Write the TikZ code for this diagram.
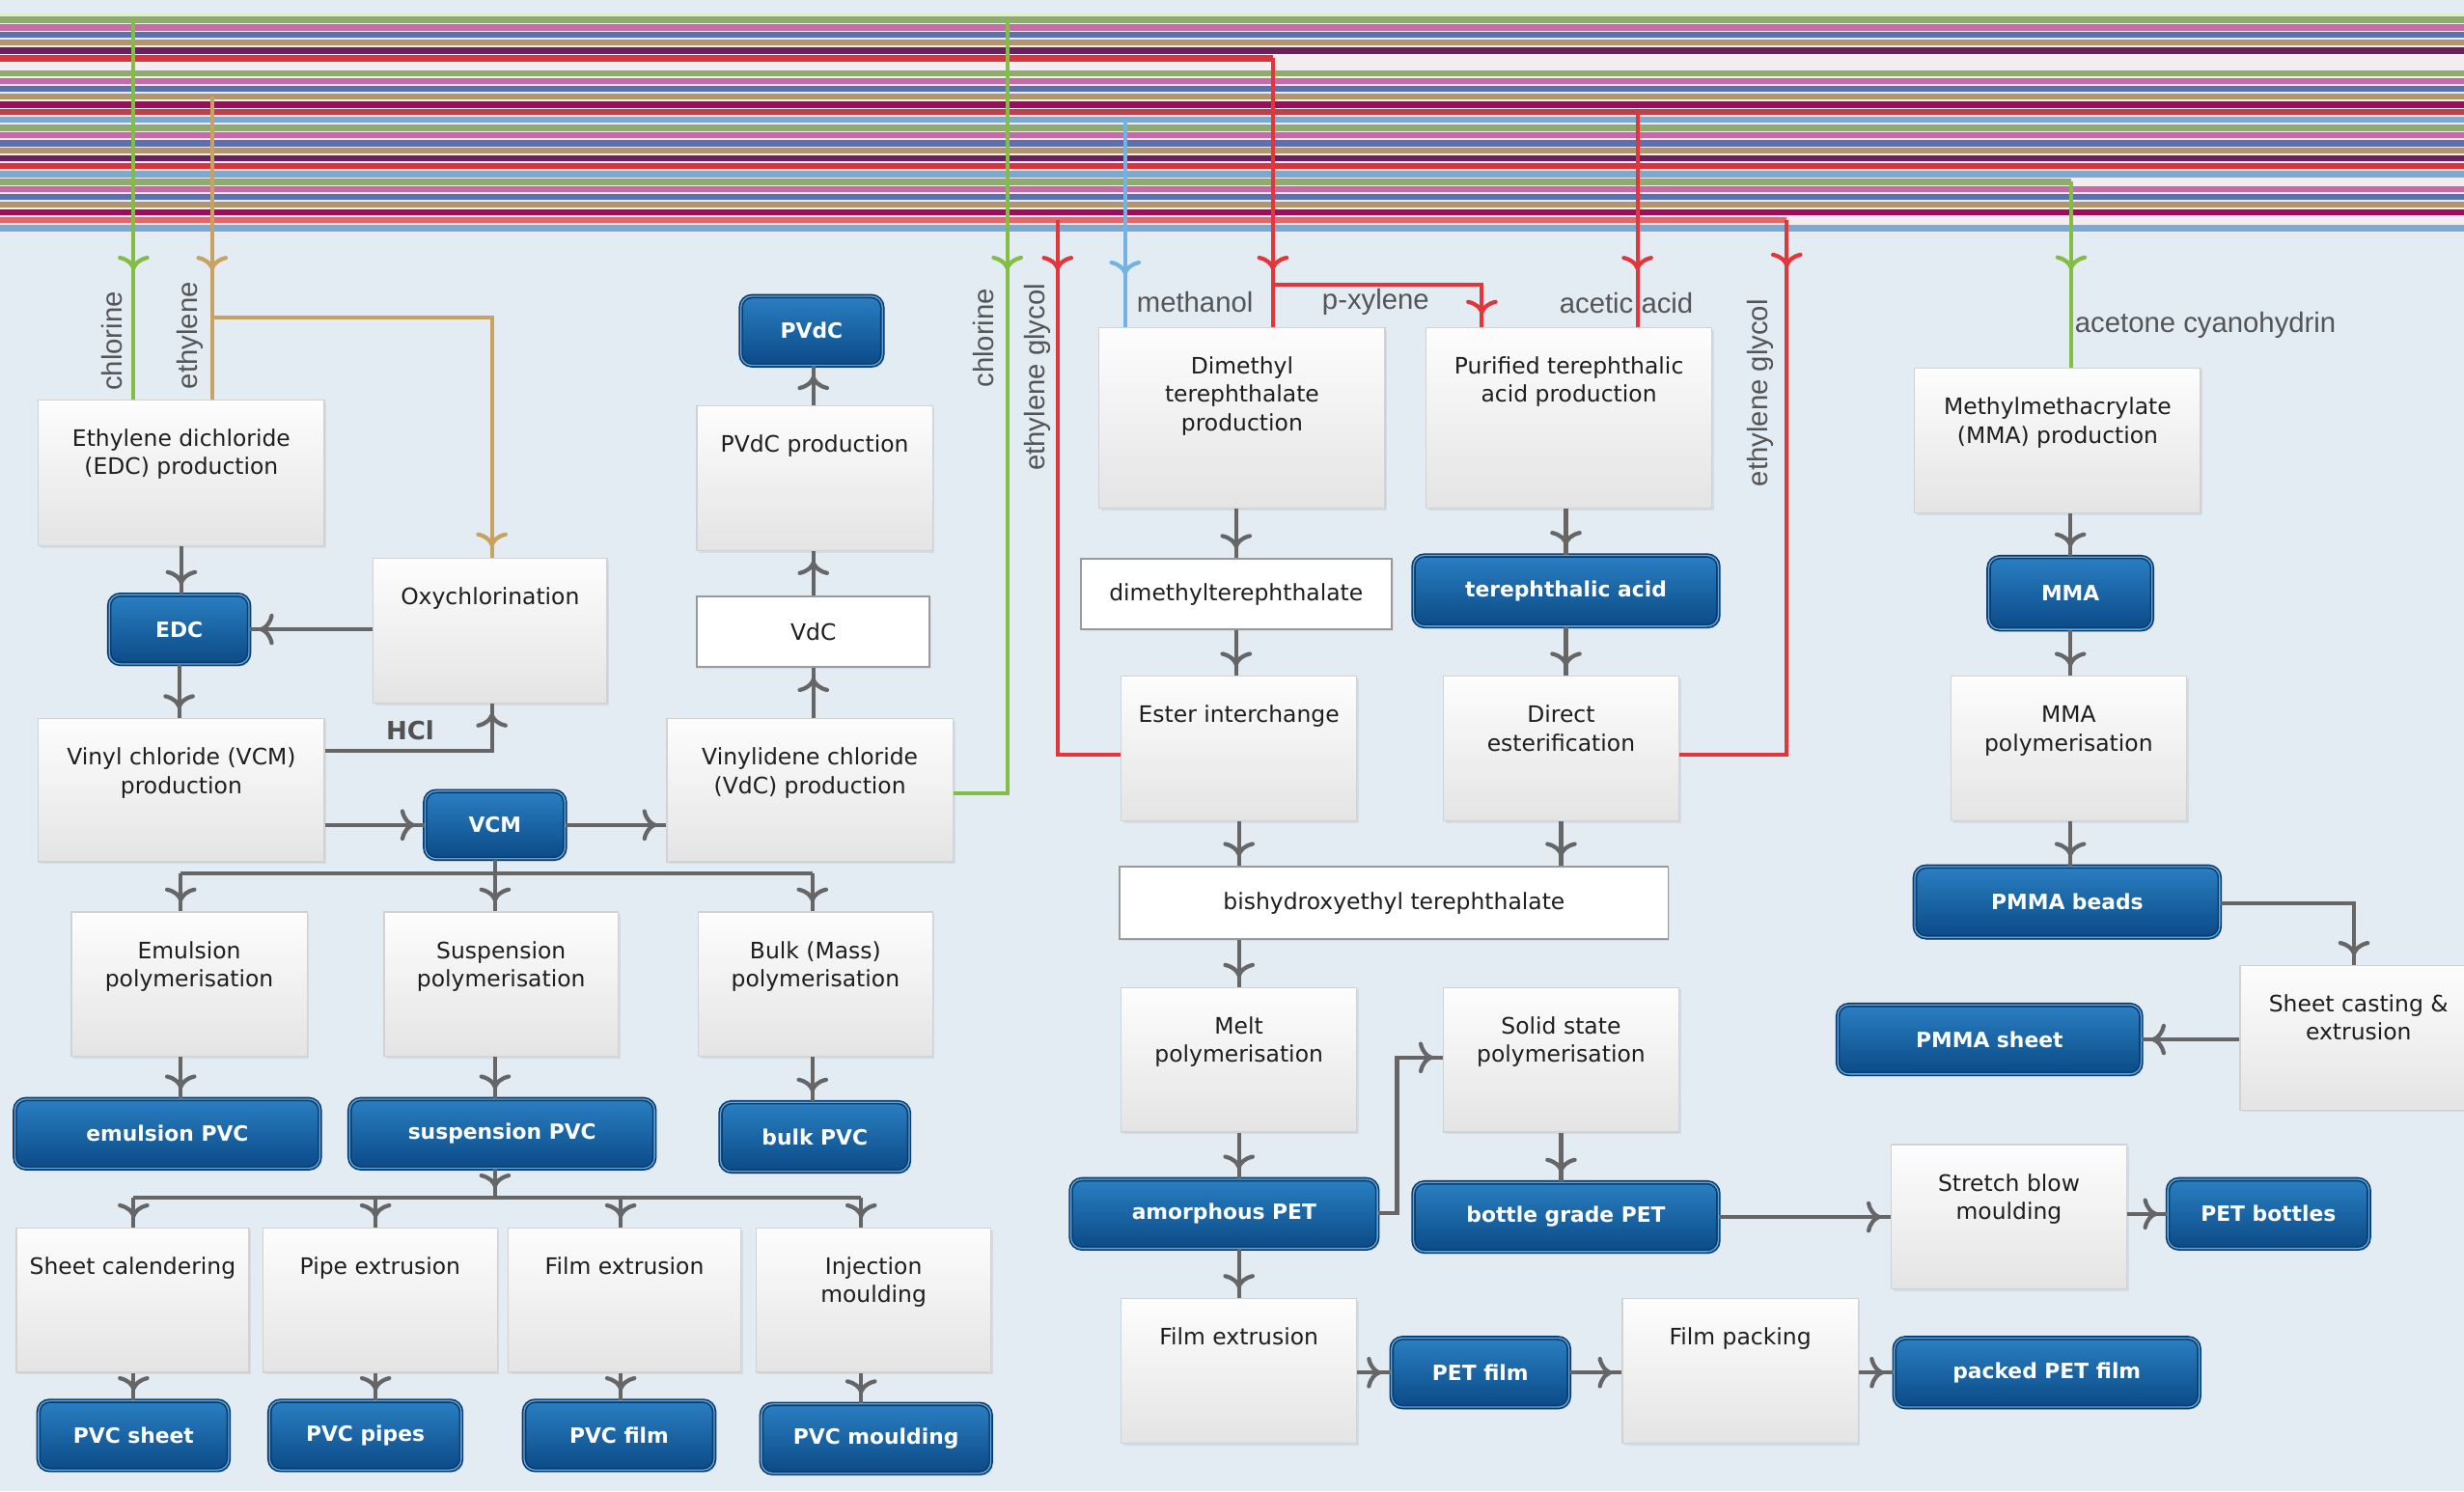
\documentclass[tikz,border=0pt]{standalone}
\usepackage{fontspec}
\setmainfont{DejaVu Sans}
\newfontfamily\labfam{Liberation Sans}
\usetikzlibrary{arrows.meta,decorations.markings,shadows}
\definecolor{bg}{HTML}{E3EBF3}
\definecolor{band}{HTML}{F3EDF2}
\definecolor{procT}{HTML}{FDFDFD}
\definecolor{procB}{HTML}{E4E4E4}
\definecolor{procE}{HTML}{D2D2D2}
\definecolor{wE}{HTML}{9A9A9A}
\definecolor{bT}{HTML}{2A7FC2}
\definecolor{bB}{HTML}{0B4A86}
\definecolor{bE}{HTML}{0A3D6E}
\definecolor{bI}{HTML}{5FA6DE}
\definecolor{txt}{HTML}{1E1E1E}
\definecolor{labc}{HTML}{555555}
\definecolor{cg}{HTML}{666666}
\definecolor{sg}{HTML}{8EAD6C}
\definecolor{sp}{HTML}{C76AA6}
\definecolor{sb}{HTML}{5B6FB3}
\definecolor{st}{HTML}{B0956F}
\definecolor{su}{HTML}{6B1F5E}
\definecolor{sr}{HTML}{D8343C}
\definecolor{sm}{HTML}{9C0D5C}
\definecolor{sd}{HTML}{B8434C}
\definecolor{sl}{HTML}{7AAAD4}
\definecolor{sx}{HTML}{E4676B}
\definecolor{pale}{HTML}{DDF0C8}
\definecolor{fg}{HTML}{82BD45}
\definecolor{ft}{HTML}{C9A261}
\definecolor{fr}{HTML}{E2363A}
\definecolor{fb}{HTML}{72B3E3}
\newdimen\uu \uu=0.5pt
\newcommand\ptfont{\fontsize{7.2}{9}\selectfont}
\newcommand\bfnt{\fontsize{6.7}{8}\selectfont\bfseries}
\newcommand\labfont{\labfam\fontsize{9}{11}\selectfont}
\newcommand\ptxt[3]{\parbox[t][#2\uu][t]{#1\uu}{\centering\rule{0pt}{14.8pt}#3\par}}
\begin{document}
\begin{tikzpicture}[x=0.5pt,y=-0.5pt,
 sz/.style 2 args={minimum width=#1*0.5pt, minimum height=#2*0.5pt, anchor=north west},
 proc/.style={draw=procE, line width=0.4pt, top color=procT, bottom color=procB, inner sep=0pt, anchor=north west, text=txt, font=\ptfont, drop shadow={shadow xshift=0.7pt, shadow yshift=-0.7pt, opacity=0.15}},
 wbox/.style={draw=wE, line width=0.6pt, fill=white, inner sep=0pt, text=txt, font=\ptfont, drop shadow={shadow xshift=0.6pt, shadow yshift=-0.6pt, opacity=0.12}},
 bbox/.style={rounded corners=3.5pt, top color=bT, bottom color=bB, draw=bE, double=bI, double distance=0.4pt, line width=0.5pt, inner sep=0pt, text=white, font=\bfnt, drop shadow={shadow xshift=0.6pt, shadow yshift=-0.8pt, opacity=0.25}},
 gl/.style={draw=cg, line width=1.25pt},
 gc/.style={gl, postaction={decorate, decoration={markings, mark=at position -3pt with {\arrow[color=cg]{Computer Modern Rightarrow[length=4.6pt,width=10pt,line width=1.3pt]}}}}},
 feed/.style 2 args={draw=#1, line width=1.25pt, postaction={decorate, decoration={markings, mark=at position #2 with {\arrow[color=#1]{Computer Modern Rightarrow[length=4.6pt,width=10pt,line width=1.3pt]}}}}},
 stripe/.style={line width=2.1pt},
 lab/.style={font=\labfont, text=labc, inner sep=0pt},
]
\useasboundingbox (0,0) rectangle (1568,949);
\fill[bg] (0,0) rectangle (1568,949);
\fill[band] (0,9) rectangle (1568,148);
\draw[pale, line width=0.8pt] (0,9.6) -- (1568,9.6);
% stripes
\foreach \yy/\cc in {12.7/sg,17.4/sp,22.1/sb,27.0/st,32.1/su,46.7/sg,51.6/sp,56.5/sb,61.4/st,66.5/sm,71.2/sd,76.2/sl,81.3/sg,86.0/sp,91.1/sb,95.8/st,100.7/su,105.6/sr,110.6/sl,120.4/sp,125.3/sb,130.2/st,135.1/sm,145.0/sl}
  \draw[stripe,\cc] (0,\yy) -- (1568,\yy);
\draw[stripe,sr] (0,36.9) -- (810,36.9);
\draw[stripe,sg] (0,115.7) -- (1318,115.7);
\draw[stripe,sx] (0,140) -- (1137,140);

% process boxes
\node[proc] (edcp) at (24,254) {\ptxt{182}{93}{Ethylene dichloride\\(EDC) production}};
\node[proc] (oxy) at (237,355) {\ptxt{149}{92}{Oxychlorination}};
\node[proc] (vcmp) at (24,457) {\ptxt{182}{91}{Vinyl chloride (VCM)\\production}};
\node[proc] (vdcp) at (424,457) {\ptxt{182}{91}{Vinylidene chloride\\(VdC) production}};
\node[proc] (pvdcp) at (443,258) {\ptxt{150}{92}{PVdC production}};
\node[proc] (emul) at (45,580) {\ptxt{150}{92}{Emulsion\\polymerisation}};
\node[proc] (susp) at (244,580) {\ptxt{149}{92}{Suspension\\polymerisation}};
\node[proc] (bulk) at (444,580) {\ptxt{149}{92}{Bulk (Mass)\\polymerisation}};
\node[proc] (shcal) at (10,781) {\ptxt{148}{92}{Sheet calendering}};
\node[proc] (pipe) at (167,781) {\ptxt{149}{92}{Pipe extrusion}};
\node[proc] (film) at (323,781) {\ptxt{148}{92}{Film extrusion}};
\node[proc] (inj) at (481,781) {\ptxt{149}{92}{Injection\\moulding}};
\node[proc] (dmtp) at (699,208) {\ptxt{182}{115}{Dimethyl\\terephthalate\\production}};
\node[proc] (ptap) at (907,208) {\ptxt{182}{115}{Purified terephthalic\\acid production}};
\node[proc] (esti) at (713,430) {\ptxt{150}{92}{Ester interchange}};
\node[proc] (dire) at (918,430) {\ptxt{150}{92}{Direct\\esterification}};
\node[proc] (melt) at (713,628) {\ptxt{150}{92}{Melt\\polymerisation}};
\node[proc] (ssp) at (918,628) {\ptxt{150}{92}{Solid state\\polymerisation}};
\node[proc] (filx) at (713,826) {\ptxt{150}{92}{Film extrusion}};
\node[proc] (filp) at (1032,826) {\ptxt{150}{92}{Film packing}};
\node[proc] (sbm) at (1203,728) {\ptxt{150}{92}{Stretch blow\\moulding}};
\node[proc] (mmap) at (1218,234) {\ptxt{182}{92}{Methylmethacrylate\\(MMA) production}};
\node[proc] (mmapol) at (1241,430) {\ptxt{150}{92}{MMA\\polymerisation}};
\node[proc] (shc) at (1425,614) {\ptxt{151}{92}{Sheet casting \&\\extrusion}};

% white boxes
\node[wbox, sz={148}{45}] (vdc) at (443,379) {VdC};
\node[wbox, sz={198}{45}] (dmt) at (687,355) {dimethylterephthalate};
\node[wbox, sz={349}{46}] (bhet) at (712,551) {bishydroxyethyl terephthalate};

% blue boxes
\node[bbox, sz={90}{44}] (pvdc) at (471,188) {PVdC};
\node[bbox, sz={89}{44}] (edc) at (69,378) {EDC};
\node[bbox, sz={89}{43}] (vcm) at (270,503) {VCM};
\node[bbox, sz={194}{44}] (epvc) at (9,699) {emulsion PVC};
\node[bbox, sz={194}{44}] (spvc) at (222,699) {suspension PVC};
\node[bbox, sz={120}{44}] (bpvc) at (458,701) {bulk PVC};
\node[bbox, sz={121}{44}] (pvcs) at (24,891) {PVC sheet};
\node[bbox, sz={122}{44}] (pvcp) at (171,891) {PVC pipes};
\node[bbox, sz={121}{44}] (pvcf) at (333,891) {PVC film};
\node[bbox, sz={146}{44}] (pvcm) at (484,893) {PVC moulding};
\node[bbox, sz={194}{45}] (tpa) at (899,353) {terephthalic acid};
\node[bbox, sz={195}{44}] (apet) at (681,750) {amorphous PET};
\node[bbox, sz={194}{44}] (bpet) at (899,752) {bottle grade PET};
\node[bbox, sz={113}{44}] (petf) at (885,851) {PET film};
\node[bbox, sz={194}{44}] (ppf) at (1205,851) {packed PET film};
\node[bbox, sz={128}{44}] (petb) at (1379,750) {PET bottles};
\node[bbox, sz={104}{46}] (mma) at (1265,354) {MMA};
\node[bbox, sz={194}{45}] (pmb) at (1218,551) {PMMA beads};
\node[bbox, sz={193}{44}] (pms) at (1169,639) {PMMA sheet};

% feed coordinates
\coordinate (clL) at (85,12.7);
\coordinate (etS) at (135,61.4);
\coordinate (etB) at (135,202);
\coordinate (etC) at (313,202);
\coordinate (clR) at (641,12.7);
\coordinate (clRc) at (641,505);
\coordinate (egL) at (673,140);
\coordinate (egLc) at (673,480);
\coordinate (meS) at (716,76.2);
\coordinate (pxS) at (810,36.9);
\coordinate (pxB) at (810,181);
\coordinate (pxC) at (943,181);
\coordinate (acS) at (1042,71.2);
\coordinate (egR) at (1137,140);
\coordinate (egRc) at (1137,480);
\coordinate (acnS) at (1318,115.7);

% feed lines
\draw[feed={fg}{79.6pt}] (clL) -- (edcp.north -| clL);
\draw[feed={ft}{55.3pt}] (etS) -- (edcp.north -| etS);
\draw[feed={ft}{-3.5pt}] (etB) -- (etC) -- (oxy.north -| etC);
\draw[feed={fg}{79.6pt}] (clR) -- (clRc) -- (vdcp.east |- clRc);
\draw[feed={fr}{16pt}] (egL) -- (egLc) -- (esti.west |- egLc);
\draw[feed={fb}{49.4pt}] (meS) -- (dmtp.north -| meS);
\draw[feed={fr}{67.5pt}] (pxS) -- (dmtp.north -| pxS);
\draw[feed={fr}{-4pt}] (pxB) -- (pxC) -- (ptap.north -| pxC);
\draw[feed={fr}{50.4pt}] (acS) -- (ptap.north -| acS);
\draw[feed={fr}{15pt}] (egR) -- (egRc) -- (dire.east |- egRc);
\draw[feed={fg}{28pt}] (acnS) -- (mmap.north -| acnS);

% feed labels
\node[lab, rotate=90, anchor=west] (lchl1) at (71,249) {chlorine};
\node[lab, rotate=90, anchor=west] (leth) at (121,248) {ethylene};
\node[lab, rotate=90, anchor=west] (lchl2) at (626,247) {chlorine};
\node[lab, rotate=90, anchor=west] (leg1) at (660,300) {ethylene glycol};
\node[lab, rotate=90, anchor=west] (leg2) at (1120,310) {ethylene glycol};
\node[lab, anchor=west] (lmeth) at (723,192) {methanol};
\node[lab, anchor=west] (lpx) at (841,192) {p-xylene};
\node[lab, anchor=west] (lac) at (992,193) {acetic acid};
\node[lab, anchor=west] (lacn) at (1320,207) {acetone cyanohydrin};

% left section connectors
\draw[gc] (edcp.south) -- (edcp.south |- edc.north);
\draw[gc] (edc.south) -- (edc.south |- vcmp.north);
\draw[gc] (oxy.west |- edc.east) -- (edc.east);
\coordinate (hcl) at (313,478);
\draw[gc] (vcmp.east |- hcl) -- (hcl) -- (oxy.south -| hcl);
\node[font=\fontsize{8}{10}\selectfont\bfseries, text=cg!80!black, inner sep=0pt] (hcltxt) at (261,465) {HCl};
\draw[gc] (vcmp.east |- vcm.west) -- (vcm.west);
\draw[gc] (vcm.east) -- (vcm.east -| vdcp.west);
\draw[gc] (vdcp.north -| vdc.south) -- (vdc.south);
\draw[gc] (vdc.north) -- (vdc.north |- pvdcp.south);
\draw[gc] (pvdcp.north -| vdc.north) -- (vdc.north |- pvdc.south);

\coordinate (b1L) at (115,556);
\coordinate (b1R) at (517,556);
\draw[gl] (b1L) -- (b1R);
\draw[gc] (vcm.south) -- (vcm.south |- susp.north);
\draw[gc] (b1L) -- (emul.north -| b1L);
\draw[gc] (b1R) -- (bulk.north -| b1R);
\draw[gc] (emul.south -| b1L) -- (b1L |- epvc.north);
\draw[gc] (susp.south -| vcm.south) -- (vcm.south |- spvc.north);
\draw[gc] (bulk.south -| b1R) -- (b1R |- bpvc.north);

\coordinate (b2L) at (85,762);
\coordinate (b2a) at (239,762);
\coordinate (b2b) at (395,762);
\coordinate (b2R) at (548,762);
\draw[gl] (b2L) -- (b2R);
\draw[gc] (spvc.south -| vcm.south) -- (vcm.south |- b2L);
\draw[gc] (b2L) -- (shcal.north -| b2L);
\draw[gc] (b2a) -- (pipe.north -| b2a);
\draw[gc] (b2b) -- (film.north -| b2b);
\draw[gc] (b2R) -- (inj.north -| b2R);
\draw[gc] (shcal.south -| b2L) -- (b2L |- pvcs.north);
\draw[gc] (pipe.south -| b2a) -- (b2a |- pvcp.north);
\draw[gc] (film.south -| b2b) -- (b2b |- pvcf.north);
\draw[gc] (inj.south -| b2R) -- (b2R |- pvcm.north);

% middle section connectors
\draw[gc] (dmt.north |- dmtp.south) -- (dmt.north);
\draw[gc] (dmt.south) -- (dmt.south |- esti.north);
\draw[gc] (tpa.north |- ptap.south) -- (tpa.north);
\draw[gc] (tpa.south) -- (tpa.south |- dire.north);
\draw[gc] (esti.south) -- (esti.south |- bhet.north);
\draw[gc] (dire.south) -- (dire.south |- bhet.north);
\draw[gc] (melt.north |- bhet.south) -- (melt.north);
\draw[gc] (melt.south) -- (melt.south |- apet.north);
\coordinate (ap1) at (889,772);
\coordinate (ap2) at (889,673);
\draw[gc] (apet.east |- ap1) -- (ap1) -- (ap2) -- (ssp.west |- ap2);
\draw[gc] (ssp.south) -- (ssp.south |- bpet.north);
\draw[gc] (filx.north |- apet.south) -- (filx.north);
\draw[gc] (filx.east |- petf.west) -- (petf.west);
\draw[gc] (petf.east) -- (petf.east -| filp.west);
\draw[gc] (filp.east |- ppf.west) -- (ppf.west);
\draw[gc] (bpet.east) -- (bpet.east -| sbm.west);
\draw[gc] (sbm.east |- petb.west) -- (petb.west);

% right section connectors
\draw[gc] (mma.north |- mmap.south) -- (mma.north);
\draw[gc] (mma.south) -- (mma.south |- mmapol.north);
\draw[gc] (mmapol.south -| mma.south) -- (mma.south |- pmb.north);
\coordinate (pm1) at (1498,575);
\draw[gc] (pmb.east |- pm1) -- (pm1) -- (shc.north -| pm1);
\draw[gc] (shc.west |- pms.east) -- (pms.east);
\end{tikzpicture}
\end{document}
